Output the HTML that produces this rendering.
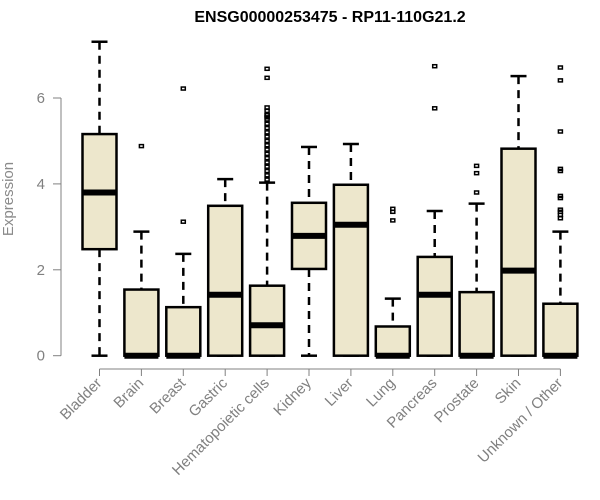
<!DOCTYPE html>
<html><head><meta charset="utf-8"><style>
body{margin:0;background:#fff}
svg{display:block;font-family:"Liberation Sans",Arial,sans-serif}
</style></head><body>
<svg id="chart" width="600" height="500">
<text x="330" y="22" text-anchor="middle" font-weight="bold" font-size="16">ENSG00000253475 - RP11-110G21.2</text>
<text transform="translate(13,199) rotate(-90)" text-anchor="middle" font-size="15" fill="#8a8a8a">Expression</text>
</svg>
<script>
const categories=["Bladder","Brain","Breast","Gastric","Hematopoietic cells","Kidney","Liver","Lung","Pancreas","Prostate","Skin","Unknown / Other"];
const lowWhisker=[0,0,0,0,0,0,0,0,0,0,0,0];
const q1=[2.48,0,0,0,0,2.02,0,0,0,0,0,0];
const medians=[3.80,0,0,1.42,0.71,2.79,3.05,0,1.42,0,1.98,0];
const q3=[5.16,1.54,1.13,3.49,1.63,3.56,3.98,0.68,2.30,1.48,4.82,1.21];
const highWhisker=[7.31,2.89,2.37,4.11,4.03,4.86,4.93,1.33,3.37,3.54,6.51,2.89];
const outliers=[[],[4.88],[3.12,6.22],[],
[4.1,4.2,4.3,4.4,4.5,4.6,4.7,4.8,4.9,5.0,5.1,5.2,5.3,5.4,5.5,5.6,5.7,5.78,5.55,5.6,6.47,6.68],
[],[],[3.42,3.35,3.15],[6.74,5.76],[4.42,4.25,3.80],[],
[6.71,6.41,5.22,4.35,4.3,3.72,3.67,3.4,3.35,3.28,3.2]];
const yTicks=[0,2,4,6];
const svg=document.getElementById('chart');
const NS='http://www.w3.org/2000/svg';
const y=v=>355.7-v*42.95;
const x=i=>99.5+i*41.9;
function mk(t,a,p){const e=document.createElementNS(NS,t);for(const k in a)e.setAttribute(k,a[k]);(p||svg).appendChild(e);return e;}
let l=mk('line',{x1:61,x2:61,y1:y(6),y2:y(0),stroke:'#808080'});


yTicks.forEach(v=>{
 const t=mk('line',{x1:53,x2:61,y1:y(v),y2:y(v),stroke:'#808080'});
 
 
 const tx=mk('text',{x:45,y:y(v)+5,'text-anchor':'end','font-size':15,fill:'#808080'});
 tx.textContent=v;
 
 
});
l=mk('line',{x1:x(0),x2:x(11),y1:369,y2:369,stroke:'#808080'});


const bw=17;
categories.forEach((c,i)=>{
 const cx=x(i);
 const g=mk('g',{});
 
 
 const t=mk('line',{x1:cx,x2:cx,y1:369,y2:376,stroke:'#808080'});
 
 
 const lb=mk('text',{transform:`translate(${cx+3},384) rotate(-45)`,'text-anchor':'end','font-size':15,fill:'#808080'});
 lb.textContent=c;
 
 
 mk('line',{x1:cx,x2:cx,y1:y(highWhisker[i]),y2:y(q3[i]),stroke:'#000','stroke-width':2.5,'stroke-dasharray':'8,6'},g);
 mk('line',{x1:cx,x2:cx,y1:y(q1[i]),y2:y(lowWhisker[i]),stroke:'#000','stroke-width':2.5,'stroke-dasharray':'8,6'},g);
 mk('line',{x1:cx-8,x2:cx+8,y1:y(highWhisker[i]),y2:y(highWhisker[i]),stroke:'#000','stroke-width':2.5},g);
 mk('line',{x1:cx-8,x2:cx+8,y1:y(lowWhisker[i]),y2:y(lowWhisker[i]),stroke:'#000','stroke-width':2.5},g);
 mk('rect',{x:cx-bw,y:y(q3[i]),width:bw*2,height:y(q1[i])-y(q3[i]),fill:'#ede7cc',stroke:'#000','stroke-width':2.5},g);
 mk('line',{x1:cx-bw,x2:cx+bw,y1:y(medians[i]),y2:y(medians[i]),stroke:'#000','stroke-width':6},g);
 outliers[i].forEach(o=>{
  const p=mk('rect',{x:cx-2,y:y(o)-1.5,width:4,height:3,fill:'none',stroke:'#000','stroke-width':1.5},g);
  
  
 });
});
</script>
</body></html>
